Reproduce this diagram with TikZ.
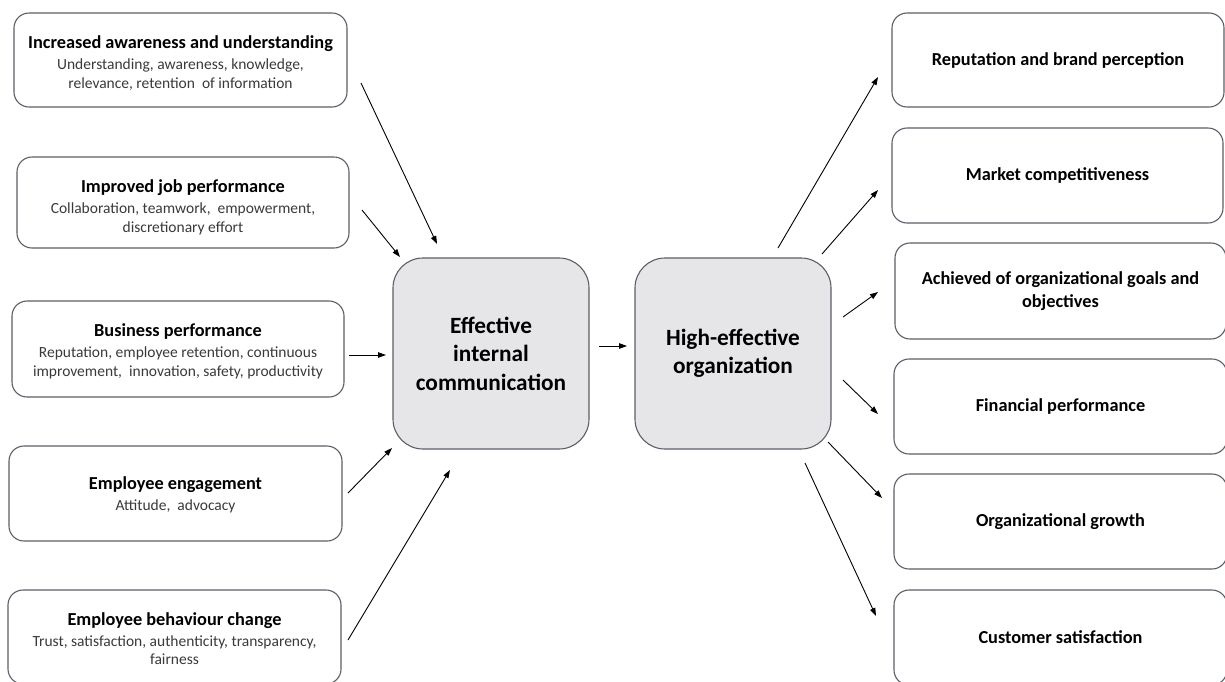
\documentclass[tikz,border=0pt]{standalone}
\usepackage{fontspec}
\setmainfont{Carlito}
\usetikzlibrary{arrows.meta}
\definecolor{bordc}{HTML}{5A6068}
\definecolor{subc}{HTML}{3A3A3A}
\definecolor{midfill}{HTML}{E6E6E8}
\tikzset{
  box/.style={draw=bordc, line width=1.1pt, rounded corners=15pt, fill=white,
    align=center, inner sep=2pt, font=\fontsize{15.5}{18.5}\selectfont},
  leftbox/.style={box, minimum width=333pt, minimum height=94pt},
  rightbox/.style={box, minimum width=332pt, minimum height=95pt, font=\fontsize{18.3}{22.5}\selectfont\bfseries},
  midbox/.style={draw=bordc, line width=1.1pt, rounded corners=30pt, fill=midfill,
    align=center, minimum width=196pt, minimum height=191pt,
    font=\fontsize{23.3}{28.5}\selectfont\bfseries},
  conn/.style={line width=0.9pt, -{Triangle[length=8pt,width=5.5pt]}}
}
% #1 = strut height (pushes text down), #2 = title
\newcommand{\bt}[2]{{\rule{0pt}{#1}\fontsize{18.3}{22}\selectfont\bfseries #2}}
\begin{document}
\begin{tikzpicture}[x=1pt,y=-1pt]
\clip (0,0) rectangle (1225,681);
\fill[white] (0,0) rectangle (1225,681);

% left boxes
\node[leftbox] (l1) at (180.5,60) {\bt{18.5pt}{Increased awareness and understanding}\\[2.5pt] \color{subc}Understanding, awareness, knowledge,\\ \color{subc}relevance, retention\ \ of information};
\node[leftbox, minimum width=332pt, minimum height=91pt] (l2) at (183,202.5) {\bt{22.5pt}{Improved job performance}\\[2.5pt] \color{subc}Collaboration, teamwork,\ \ empowerment,\\ \color{subc}discretionary effort};
\node[leftbox, minimum width=332pt, minimum height=96pt] (l3) at (178,349) {\bt{17.5pt}{Business performance}\\[2.5pt] \color{subc}Reputation, employee retention, continuous\\ \color{subc}improvement,\ \ innovation, safety, productivity};
\node[leftbox, minimum height=95pt] (l4) at (175.5,493.5) {\bt{15.5pt}{Employee engagement}\\[2.5pt] \color{subc}Attitude,\ \ advocacy};
\node[leftbox] (l5) at (174.5,637) {\bt{16.5pt}{Employee behaviour change}\\[2.5pt] \color{subc}Trust, satisfaction, authenticity, transparency,\\ \color{subc}fairness};

% central boxes
\node[midbox] (ec) at (491,353.5) {Effective\\internal\\communication};
\node[midbox] (he) at (733,353.5) {\raisebox{-4pt}{\shortstack{High-effective\\[5pt]organization}}};

% right boxes
\node[rightbox, minimum height=94pt] (r1) at (1058,60) {Reputation and brand perception};
\node[rightbox, minimum width=331pt] (r2) at (1057.5,175.5) {Market competitiveness};
\node[rightbox, minimum width=331pt, minimum height=96pt] (r3) at (1060.5,291) {Achieved of organizational goals and\\objectives};
\node[rightbox, minimum width=333pt] (r4) at (1060.5,406.5) {Financial performance};
\node[rightbox, minimum width=333pt] (r5) at (1060.5,521.5) {Organizational growth};
\node[rightbox, minimum width=333pt] (r6) at (1060.5,637.5) {Customer satisfaction};

% arrow end points
\coordinate (a1s) at (361,83);   \coordinate (a1e) at (437,244);
\coordinate (a2s) at (362,210);  \coordinate (a2e) at (400,257);
\coordinate (a3s) at (349,355);  \coordinate (a3e) at (386,355);
\coordinate (a4s) at (348,493);  \coordinate (a4e) at (392,448);
\coordinate (a5s) at (348,640);  \coordinate (a5e) at (450,470);
\coordinate (m1s) at (599,346);  \coordinate (m1e) at (627,346);
\coordinate (b1s) at (778,248);  \coordinate (b1e) at (878,77);
\coordinate (b2s) at (822,254);  \coordinate (b2e) at (878,190);
\coordinate (b3s) at (843,317);  \coordinate (b3e) at (878,292);
\coordinate (b4s) at (843,380);  \coordinate (b4e) at (878,414);
\coordinate (b5s) at (828,442);  \coordinate (b5e) at (882,498);
\coordinate (b6s) at (805,463);  \coordinate (b6e) at (876,616);

\foreach \s/\e in {a1s/a1e,a2s/a2e,a3s/a3e,a4s/a4e,a5s/a5e,m1s/m1e,b1s/b1e,b2s/b2e,b3s/b3e,b4s/b4e,b5s/b5e,b6s/b6e}
  \draw[conn] (\s) -- (\e);
\end{tikzpicture}
\end{document}
